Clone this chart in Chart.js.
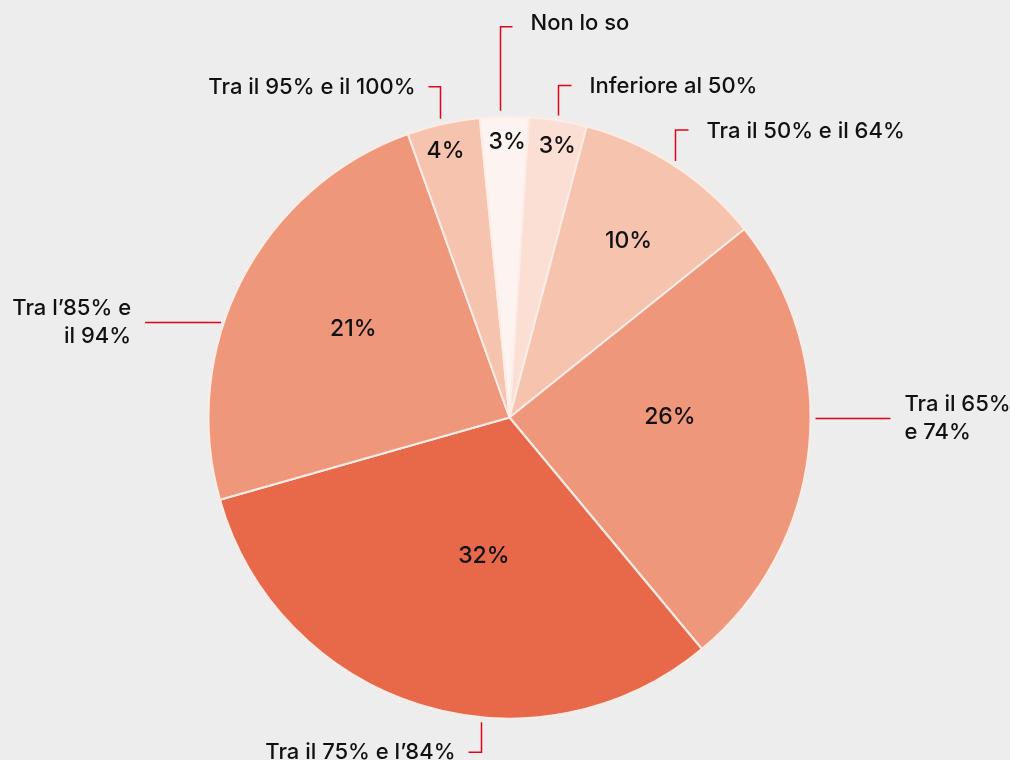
<!DOCTYPE html>
<html>
<head>
<meta charset="utf-8">
<script src="https://cdn.jsdelivr.net/npm/chart.js@4/dist/chart.umd.min.js"></script>
<style>
  html,body{margin:0;padding:0;background:#ededed;}
  #wrap{width:1010px;height:760px;}
</style>
</head>
<body>
<div id="wrap"><canvas id="pie" width="1010" height="760"></canvas></div>
<script>
// slices clockwise from the top
const categories = ['Inferiore al 50%', 'Tra il 50% e il 64%', 'Tra il 65% e 74%', 'Tra il 75% e l’84%', 'Tra l’85% e il 94%', 'Tra il 95% e il 100%', 'Non lo so'];
const shares = [3.1, 10.1, 24.7, 31.6, 23.9, 3.9, 2.6];
const shareLabels = ['3%', '10%', '26%', '32%', '21%', '4%', '3%'];
const sliceColors = ['#fbdfd4', '#f6c4ae', '#ef977a', '#e8694a', '#ef977a', '#f6c4ae', '#fdf4f1'];

// where the % text sits: [angle from top, fraction of radius]
const valuePos = [[10, 0.915], [34, 0.707], [90, 0.533], [190.5, 0.467], [299.6, 0.597], [346.5, 0.91], [-0.5, 0.915]];

// leader lines, offsets from the pie centre
const callouts = [
  {side:'top', off:48.5, gap:5, len:30, hook:13, dy:1, lines:['Inferiore al 50%']},
  {side:'top', off:165.5, gap:5, len:31, hook:13, dy:1, lines:['Tra il 50% e il 64%']},
  {side:'right', off:0.5, gap:5, len:75, lines:['Tra il 65%', 'e 74%']},
  {side:'bottom', off:-28.5, gap:5, len:30, hook:-13, dy:0, lines:['Tra il 75% e l’84%']},
  {side:'left', off:-95.5, gap:3, len:76, lines:['Tra l’85% e', 'il 94%']},
  {side:'top', off:-69.5, gap:6, len:32, hook:-12, dy:1, lines:['Tra il 95% e il 100%']},
  {side:'top', off:-9.5, gap:6, len:84, hook:12, dy:-3, lines:['Non lo so']}
];

const FONT = '500 22px Inter, "Noto Sans", sans-serif';
const PCT_FONT = '500 23px Inter, "Noto Sans", sans-serif';
const RED = '#e1061b';

const labelPlugin = {
  id: 'labels',
  afterDraw(chart) {
    const ctx = chart.ctx;
    const arcs = chart.getDatasetMeta(0).data;
    const cx = arcs[0].x, cy = arcs[0].y, r = arcs[0].outerRadius;
    ctx.save();
    ctx.font = PCT_FONT;
    ctx.fillStyle = '#111';
    ctx.textAlign = 'center';
    ctx.textBaseline = 'middle';
    valuePos.forEach((p, i) => {
      const a = p[0] * Math.PI / 180;
      ctx.fillText(shareLabels[i], cx + Math.sin(a) * r * p[1], cy - Math.cos(a) * r * p[1]);
    });

    ctx.font = FONT;
    ctx.strokeStyle = RED;
    ctx.lineWidth = 1.5;
    callouts.forEach(c => {
      ctx.beginPath();
      if (c.side === 'top' || c.side === 'bottom') {
        const s = c.side === 'top' ? -1 : 1;
        const x = Math.round(cx + c.off) + 0.5;
        const y0 = cy + s * (Math.sqrt(r * r - c.off * c.off) + c.gap);
        const y1 = y0 + s * c.len;
        ctx.moveTo(x, y0); ctx.lineTo(x, y1); ctx.lineTo(x + c.hook, y1);
        ctx.stroke();
        ctx.textAlign = c.hook > 0 ? 'left' : 'right';
        ctx.fillText(c.lines[0], x + c.hook + (c.hook > 0 ? 18 : -13), y1 + c.dy);
      } else {
        const s = c.side === 'right' ? 1 : -1;
        const y = Math.round(cy + c.off) + 0.5;
        const x0 = cx + s * (Math.sqrt(r * r - c.off * c.off) + c.gap);
        const x1 = x0 + s * c.len;
        ctx.moveTo(x0, y); ctx.lineTo(x1, y);
        ctx.stroke();
        ctx.textAlign = s > 0 ? 'left' : 'right';
        const lh = 27.5;
        c.lines.forEach((t, k) => {
          ctx.fillText(t, x1 + s * 14, y + (k - (c.lines.length - 1) / 2) * lh);
        });
      }
    });
    ctx.restore();
  }
};

new Chart(document.getElementById('pie'), {
  type: 'pie',
  data: {
    labels: categories,
    datasets: [{
      data: shares,
      backgroundColor: sliceColors,
      borderColor: '#fcece6',
      borderWidth: 2
    }]
  },
  options: {
    responsive: false,
    animation: false,
    rotation: 3.7,
    layout: { padding: { top: 115.5, bottom: 40.5, left: 207.5, right: 198.5 } },
    plugins: { legend: { display: false }, tooltip: { enabled: false } }
  },
  plugins: [labelPlugin]
});
</script>
</body>
</html>
